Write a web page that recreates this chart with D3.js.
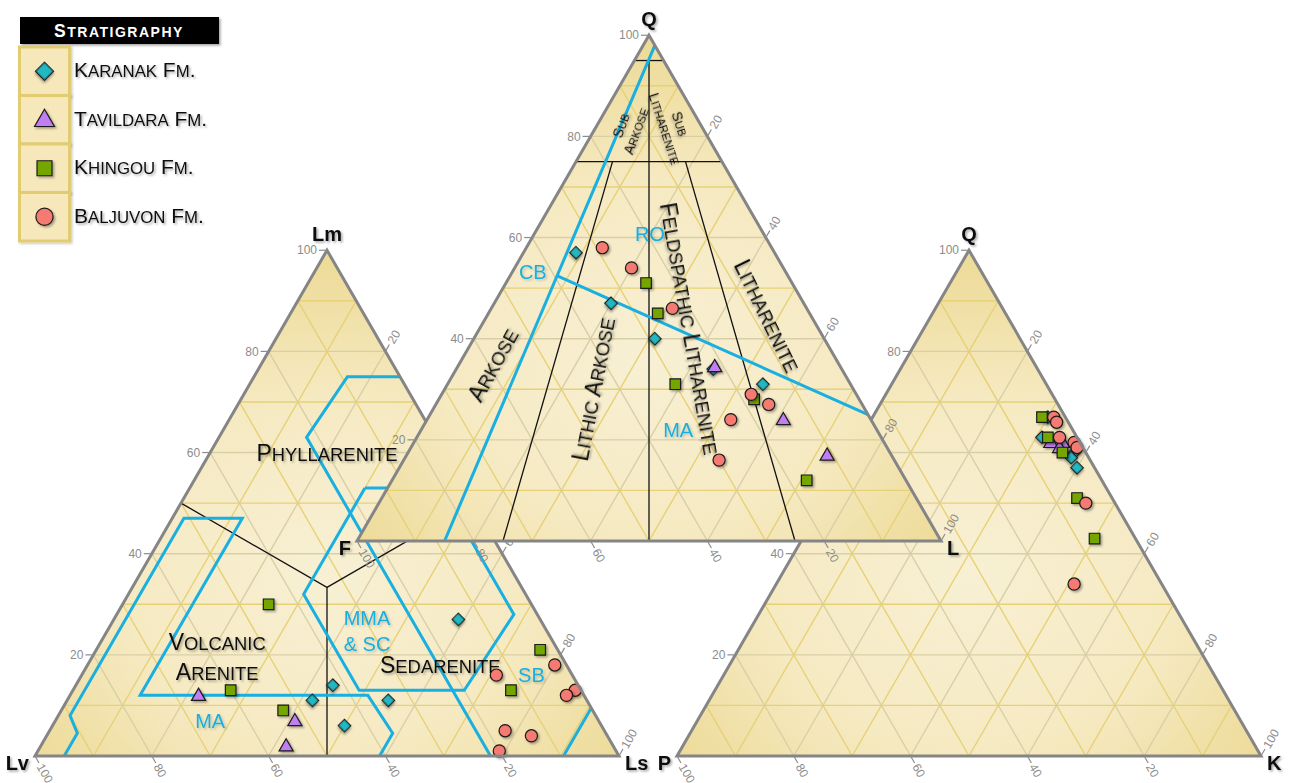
<!DOCTYPE html>
<html>
<head>
<meta charset="utf-8">
<script src="https://cdn.jsdelivr.net/npm/d3@7/dist/d3.min.js"></script>
<style>
  html, body { margin: 0; padding: 0; background: #ffffff; }
  svg { display: block; font-family: "Liberation Sans", Arial, sans-serif; }
</style>
</head>
<body>
<div id="chart"></div>
<script>
/* ---------- data ---------- */
const formations = ['Karanak Fm.', 'Tavildara Fm.', 'Khingou Fm.', 'Baljuvon Fm.'];
const formationColors = ['#22b8c2', '#c07ef2', '#74a600', '#f47a72'];

// Q-F-L  [Q, F, L]
const karanakQFL = [[57, 34, 9], [47, 33, 20], [40, 29, 31], [34, 22, 44], [31, 15, 54]];
const tavildaraQFL = [[34.5, 21.5, 44], [24, 15, 61], [17, 11, 72]];
const khingouQFL = [[51, 25, 24], [45, 26, 29], [31, 30, 39], [28, 18, 54], [12, 17, 71]];
const baljuvonQFL = [[58, 29, 13], [54, 26, 20], [46, 23, 31], [29, 18, 53], [27, 16, 57], [24, 24, 52], [16, 30, 54]];

// Lm-Lv-Ls  [Lm, Lv, Ls]
const karanakLm = [[27, 14, 59], [14, 42, 44], [11, 47, 42], [11, 34, 55], [6, 44, 50]];
const tavildaraLm = [[12, 66, 22], [7, 52, 41], [2, 56, 42]];
const khingouLm = [[30, 45, 25], [13, 60, 27], [9, 53, 38], [21, 3, 76], [13, 12, 75]];
const baljuvonLm = [[16, 13, 71], [18, 2, 80], [13, 1, 86], [12, 3, 85], [5, 17, 78], [4, 13, 83], [1, 20, 79]];

// Q-P-K  [Q, P, K]
const karanakQPK = [[67, 3, 30], [63, 6, 31], [60, 2, 38], [59, 3, 38], [57, 3, 40]];
const tavildaraQPK = [[62, 5, 33], [62, 3, 35], [61, 4, 35]];
const khingouQPK = [[67, 4, 29], [63, 5, 32], [60, 4, 36], [51, 6, 43], [43, 7, 50]];
const baljuvonQPK = [[67, 2, 31], [66, 2, 32], [62, 1, 37], [61, 1, 38], [63, 3, 34], [50, 5, 45], [34, 15, 51]];

// classification boundaries (ternary coordinates)
const qflBlackLines = [
  [[95, 5, 0], [95, 0, 5]],
  [[75, 25, 0], [75, 0, 25]],
  [[95, 2.5, 2.5], [0, 50, 50]],
  [[75, 18.75, 6.25], [0, 75, 25]],
  [[75, 6.25, 18.75], [0, 25, 75]]
];
const qflBlueLines = [
  [[98, 0, 2], [0, 85, 15]],
  [[52.4, 39.5, 8.1], [25, 0, 75]]
];
const lmBlackLines = [
  [[50, 50, 0], [33.34, 33.33, 33.33], [0, 50, 50]],
  [[33.34, 33.33, 33.33], [50, 0, 50]]
];
const lmBlueLines = [
  [[0, 95, 5], [4.5, 90.5, 5], [8, 90, 2], [47, 51, 2], [47, 41, 12], [12, 76, 12], [12, 37, 51], [4.5, 36.5, 59], [0, 41, 59]],
  [[75, 0, 25], [75, 9, 16], [63, 22, 15], [0, 22, 78]],
  [[53, 17, 30], [53, 4, 43], [28, 4, 68], [13, 20, 67], [13, 38, 49], [32, 38, 30], [53, 17, 30]],
  [[9.5, 0, 90.5], [0, 9.5, 90.5]]
];

const tickValues = [20, 40, 60, 80, 100];

/* ---------- layout ---------- */
const W = 1294, H = 783;
const blue = '#19afe0';
const tickGray = '#8c8c8c';

const svg = d3.select('#chart')
  .append('svg')
  .attr('width', W)
  .attr('height', H)
  .attr('viewBox', `0 0 ${W} ${H}`);

const defs = svg.append('defs');

const grad = defs.append('radialGradient')
  .attr('id', 'triFill')
  .attr('cx', 0.5).attr('cy', 0.64).attr('r', 0.62);
grad.append('stop').attr('offset', '0%').attr('stop-color', '#f8f0d4');
grad.append('stop').attr('offset', '55%').attr('stop-color', '#f6eac3');
grad.append('stop').attr('offset', '100%').attr('stop-color', '#eddb98');

const shadow = defs.append('filter').attr('id', 'shadow')
  .attr('x', '-30%').attr('y', '-30%').attr('width', '170%').attr('height', '170%');
shadow.append('feDropShadow')
  .attr('dx', 1.6).attr('dy', 1.6).attr('stdDeviation', 1)
  .attr('flood-color', '#000').attr('flood-opacity', 0.35);

const softShadow = defs.append('filter').attr('id', 'softShadow')
  .attr('x', '-30%').attr('y', '-30%').attr('width', '170%').attr('height', '170%');
softShadow.append('feDropShadow')
  .attr('dx', 1.5).attr('dy', 1.5).attr('stdDeviation', 1)
  .attr('flood-color', '#000').attr('flood-opacity', 0.2);

function makeTernary({ x0, x1, base }) {
  const side = x1 - x0;
  const h = (side * Math.sqrt(3)) / 2;
  const x = d3.scaleLinear().domain([0, 100]).range([x0, x1]);
  const y = d3.scaleLinear().domain([0, 100]).range([base, base - h]);
  const project = ([a, b, c]) => {
    const s = a + b + c;
    const ta = (a / s) * 100;
    const tc = (c / s) * 100;
    return [x(tc + ta / 2), y(ta)];
  };
  return { x, y, project, x0, x1, base, h };
}

// writes text with small caps built from tspans (lowercase -> uppercase at 80%)
function smallCaps(textSel, str, size) {
  const runs = [];
  for (const ch of str) {
    const lower = ch !== ch.toUpperCase();
    const last = runs[runs.length - 1];
    if (last && last.lower === lower) last.text += ch;
    else runs.push({ lower, text: ch });
  }
  runs.forEach((r) => {
    textSel.append('tspan')
      .attr('font-size', r.lower ? size * 0.8 : size)
      .text(r.lower ? r.text.toUpperCase() : r.text);
  });
}

const symbolPaths = {
  diamond: (s) => d3.symbol(d3.symbolSquare, s)(),
  triangle: (s) => d3.symbol(d3.symbolTriangle, s)(),
  square: (s) => d3.symbol(d3.symbolSquare, s)(),
  circle: (s) => d3.symbol(d3.symbolCircle, s)()
};
const formationSymbols = ['diamond', 'triangle', 'square', 'circle'];
const symbolSizes = { diamond: 80, triangle: 86, square: 112, circle: 116 };

function drawMarker(g, type, color, px, py, scale = 1) {
  g.append('path')
    .attr('d', symbolPaths[type](symbolSizes[type] * scale))
    .attr('transform', `translate(${px},${py})${type === 'diamond' ? ' rotate(45)' : ''}${type === 'triangle' ? ' translate(0,1)' : ''}`)
    .attr('fill', color)
    .attr('stroke', '#1a1a1a')
    .attr('stroke-width', 1.2)
    .attr('filter', 'url(#shadow)');
}

function drawTernary(cfg) {
  const t = makeTernary(cfg.frame);
  const g = svg.append('g').attr('class', `ternary ${cfg.id}`);
  const line = d3.line().x((d) => t.project(d)[0]).y((d) => t.project(d)[1]);
  const corners = [[100, 0, 0], [0, 100, 0], [0, 0, 100]];

  /* background */
  g.append('path')
    .attr('d', line(corners) + 'Z')
    .attr('fill', 'url(#triFill)');

  /* grid */
  d3.range(10, 100, 10).forEach((v) => {
    const col = v % 20 === 0 ? '#d9cfa6' : '#e6d176';
    [
      [[v, 100 - v, 0], [v, 0, 100 - v]],
      [[100 - v, v, 0], [0, v, 100 - v]],
      [[100 - v, 0, v], [0, 100 - v, v]]
    ].forEach((seg) => {
      g.append('path')
        .attr('d', line(seg))
        .attr('fill', 'none')
        .attr('stroke', col)
        .attr('stroke-width', 1.4);
    });
  });

  /* boundaries */
  (cfg.blackLines || []).forEach((pts) => {
    g.append('path').attr('d', line(pts))
      .attr('fill', 'none').attr('stroke', '#111').attr('stroke-width', 1.3);
  });
  (cfg.blueLines || []).forEach((pts) => {
    g.append('path').attr('d', line(pts))
      .attr('fill', 'none').attr('stroke', blue).attr('stroke-width', 3)
      .attr('stroke-linejoin', 'miter');
  });

  /* field labels */
  (cfg.labels || []).forEach((lab) => {
    const [px, py] = t.project(lab.pos);
    const tg = g.append('g').attr('transform', `translate(${px},${py}) rotate(${lab.angle || 0})`);
    const lines = lab.lines;
    const lh = lab.size * (lab.lh || 1.1);
    lines.forEach((ln, i) => {
      const txt = tg.append('text')
        .attr('x', 0)
        .attr('y', (i - (lines.length - 1) / 2) * lh)
        .attr('dy', '0.36em')
        .attr('text-anchor', 'middle')
        .attr('fill', lab.color || '#111')
        .attr('filter', lab.color ? 'url(#softShadow)' : 'url(#shadow)')
        .attr('font-size', lab.size);
      if (lab.caps) smallCaps(txt, ln, lab.size);
      else txt.text(ln);
    });
  });

  /* points */
  cfg.series.forEach((pts, i) => {
    const type = formationSymbols[i];
    pts.forEach((p) => {
      const [px, py] = t.project(p);
      drawMarker(g, type, formationColors[i], px, py);
    });
  });

  /* outline */
  g.append('path')
    .attr('d', line(corners) + 'Z')
    .attr('fill', 'none')
    .attr('stroke', '#858585')
    .attr('stroke-width', 3)
    .attr('stroke-linejoin', 'miter');

  /* ticks */
  const axisG = g.append('g').attr('font-size', 12).attr('fill', tickGray);
  const c30 = Math.cos(Math.PI / 3), s60 = Math.sin(Math.PI / 3);
  tickValues.forEach((v) => {
    // left axis: top component
    let [px, py] = t.project([v, 100 - v, 0]);
    axisG.append('line').attr('x1', px).attr('y1', py).attr('x2', px - 8).attr('y2', py)
      .attr('stroke', tickGray).attr('stroke-width', 1.2);
    axisG.append('text').attr('x', px - 10).attr('y', py).attr('dy', '0.35em')
      .attr('text-anchor', 'end').text(v);

    // right axis: right component
    [px, py] = t.project([100 - v, 0, v]);
    axisG.append('line').attr('x1', px).attr('y1', py)
      .attr('x2', px + 8 * c30).attr('y2', py - 8 * s60)
      .attr('stroke', tickGray).attr('stroke-width', 1.2);
    axisG.append('text')
      .attr('transform', `translate(${px + 10 * c30},${py - 10 * s60}) rotate(-60)`)
      .attr('dy', '0.35em').attr('text-anchor', 'start').text(v);

    // bottom axis: left component
    [px, py] = t.project([0, v, 100 - v]);
    axisG.append('line').attr('x1', px).attr('y1', py)
      .attr('x2', px + 8 * c30).attr('y2', py + 8 * s60)
      .attr('stroke', tickGray).attr('stroke-width', 1.2);
    axisG.append('text')
      .attr('transform', `translate(${px + 10 * c30},${py + 10 * s60}) rotate(60)`)
      .attr('dy', '0.35em').attr('text-anchor', 'start').text(v);
  });

  /* vertex names */
  const vg = g.append('g').attr('font-size', 20).attr('font-weight', 700)
    .attr('fill', '#111').attr('filter', 'url(#shadow)');
  const [ax, ay] = t.project([100, 0, 0]);
  vg.append('text').attr('x', ax).attr('y', ay - 9).attr('text-anchor', 'middle').text(cfg.names[0]);
  vg.append('text').attr('x', t.x0 - 6).attr('y', t.base + 14).attr('text-anchor', 'end').text(cfg.names[1]);
  vg.append('text').attr('x', t.x1 + 6).attr('y', t.base + 14).attr('text-anchor', 'start').text(cfg.names[2]);
}

/* ---------- diagrams ---------- */
drawTernary({
  id: 'lm',
  frame: { x0: 35, x1: 619, base: 756 },
  names: ['Lm', 'Lv', 'Ls'],
  blackLines: lmBlackLines,
  blueLines: lmBlueLines,
  labels: [
    { lines: ['Phyllarenite'], pos: [60, 20, 20], size: 23, caps: true },
    { lines: ['Volcanic', 'Arenite'], pos: [19.6, 59, 21.4], size: 23, caps: true, lh: 1.3 },
    { lines: ['Sedarenite'], pos: [18, 21.6, 60.4], size: 23, caps: true },
    { lines: ['MA'], pos: [7, 66.5, 26.5], size: 20, color: blue },
    { lines: ['MMA', '& SC'], pos: [24.7, 30.8, 44.5], size: 20, color: blue, lh: 1.3 },
    { lines: ['SB'], pos: [16, 7, 77], size: 20, color: blue }
  ],
  series: [karanakLm, tavildaraLm, khingouLm, baljuvonLm]
});

drawTernary({
  id: 'qpk',
  frame: { x0: 677, x1: 1261, base: 756 },
  names: ['Q', 'P', 'K'],
  series: [karanakQPK, tavildaraQPK, khingouQPK, baljuvonQPK]
});

drawTernary({
  id: 'qfl',
  frame: { x0: 357, x1: 941, base: 541 },
  names: ['Q', 'F', 'L'],
  blackLines: qflBlackLines,
  blueLines: qflBlueLines,
  labels: [
    { lines: ['Sub', 'Arkose'], pos: [81.6, 12.7, 5.7], angle: -70, size: 14, caps: true },
    { lines: ['Sub', 'Litharenite'], pos: [82, 5, 13], angle: 72, size: 14, caps: true },
    { lines: ['Arkose'], pos: [34.8, 59.3, 5.9], angle: -61, size: 23, caps: true },
    { lines: ['Lithic Arkose'], pos: [30, 44.5, 25.5], angle: -79, size: 23, caps: true },
    { lines: ['Feldspathic Litharenite'], pos: [42, 22, 36], angle: 80, size: 23, caps: true },
    { lines: ['Litharenite'], pos: [44.5, 7.5, 48], angle: 64, size: 23, caps: true },
    { lines: ['RO'], pos: [60.7, 19.5, 19.8], size: 20, color: blue },
    { lines: ['CB'], pos: [53.2, 43.3, 3.5], size: 20, color: blue },
    { lines: ['MA'], pos: [22, 34, 44], size: 20, color: blue }
  ],
  series: [karanakQFL, tavildaraQFL, khingouQFL, baljuvonQFL]
});

/* ---------- legend ---------- */
const legend = svg.append('g').attr('class', 'legend');
legend.append('rect')
  .attr('x', 20).attr('y', 17).attr('width', 199).attr('height', 27)
  .attr('fill', '#000').attr('filter', 'url(#shadow)');
const head = legend.append('text')
  .attr('x', 119).attr('y', 31).attr('dy', '0.36em')
  .attr('text-anchor', 'middle').attr('fill', '#fff')
  .attr('font-weight', 700).attr('letter-spacing', 1.5);
smallCaps(head, 'Stratigraphy', 17.5);

const rowH = 48.5;
formations.forEach((name, i) => {
  const y0 = 47 + i * rowH;
  legend.append('rect')
    .attr('x', 19.5).attr('y', y0).attr('width', 50).attr('height', rowH)
    .attr('fill', '#f6e8ba').attr('stroke', '#e2cc72').attr('stroke-width', 3)
    .attr('filter', 'url(#softShadow)');
  drawMarker(legend, formationSymbols[i], formationColors[i], 44.5, y0 + rowH / 2, 2);
  const txt = legend.append('text')
    .attr('x', 74).attr('y', y0 + rowH / 2).attr('dy', '0.36em')
    .attr('fill', '#111').attr('filter', 'url(#shadow)');
  smallCaps(txt, name, 21);
});
</script>
</body>
</html>
